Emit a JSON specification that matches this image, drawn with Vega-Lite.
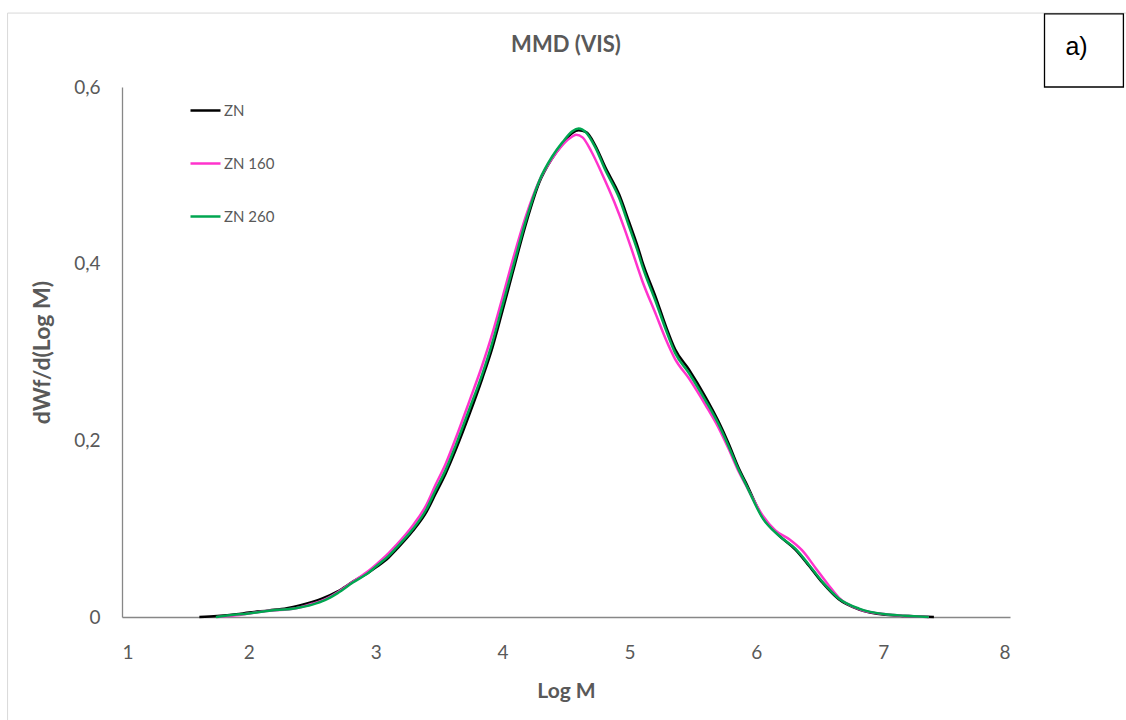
{
  "$schema": "https://vega.github.io/schema/vega-lite/v6.json",
  "autosize": "none",
  "width": 888,
  "height": 530,
  "padding": {"left": 122, "top": 87, "right": 116, "bottom": 103},
  "background": "white",
  "config": {
    "view": {"stroke": null},
    "font": "Lato",
    "axis": {"grid": false, "ticks": false, "domainColor": "#878787", "domainWidth": 1.3, "labelColor": "#595959", "titleColor": "#595959", "labelFont": "Lato", "titleFont": "Lato"}
  },
  "layer": [
    {
      "data": {"values": [{}]},
      "mark": {"type": "rect", "fill": null, "stroke": "#d9d9d9", "strokeWidth": 1, "clip": false},
      "encoding": {
        "x": {"datum": 0.098, "type": "quantitative"},
        "x2": {"datum": 9.2},
        "y": {"datum": 0.6837, "type": "quantitative"},
        "y2": {"datum": -0.16}
      }
    },
    {
      "data": {"values": [{}]},
      "mark": {"type": "rect", "fill": "white", "stroke": "#000000", "strokeWidth": 1.3, "clip": false},
      "encoding": {
        "x": {"datum": 8.272, "type": "quantitative"},
        "x2": {"datum": 8.894},
        "y": {"datum": 0.6827, "type": "quantitative"},
        "y2": {"datum": 0.6}
      }
    },
    {
      "data": {"values": [{"label": "a)"}]},
      "mark": {"type": "text", "font": "Liberation Sans", "fontSize": 25, "color": "#000000", "align": "left", "baseline": "middle", "clip": false},
      "encoding": {
        "x": {"datum": 8.437, "type": "quantitative"},
        "y": {"datum": 0.6453, "type": "quantitative"},
        "text": {"field": "label"}
      }
    },
    {
      "data": {"values": [{"label": "MMD (VIS)"}]},
      "mark": {"type": "text", "font": "Lato", "fontSize": 22, "fontWeight": "bold", "color": "#595959", "align": "center", "baseline": "middle", "clip": false},
      "encoding": {
        "x": {"datum": 4.5, "type": "quantitative"},
        "y": {"datum": 0.6476, "type": "quantitative"},
        "text": {"field": "label"}
      }
    },
    {
      "data": {"values": [
        {"s": "ZN", "x": 1.61, "y": 0.0}, {"s": "ZN", "x": 1.75, "y": 0.001}, {"s": "ZN", "x": 1.9, "y": 0.003}, {"s": "ZN", "x": 2.0, "y": 0.005}, {"s": "ZN", "x": 2.16, "y": 0.0075}, {"s": "ZN", "x": 2.3, "y": 0.010}, {"s": "ZN", "x": 2.4, "y": 0.013}, {"s": "ZN", "x": 2.5, "y": 0.017}, {"s": "ZN", "x": 2.58, "y": 0.021}, {"s": "ZN", "x": 2.7, "y": 0.029}, {"s": "ZN", "x": 2.82, "y": 0.040}, {"s": "ZN", "x": 2.95, "y": 0.051}, {"s": "ZN", "x": 3.0, "y": 0.056}, {"s": "ZN", "x": 3.1, "y": 0.067}, {"s": "ZN", "x": 3.16, "y": 0.076}, {"s": "ZN", "x": 3.29, "y": 0.097}, {"s": "ZN", "x": 3.4, "y": 0.119}, {"s": "ZN", "x": 3.47, "y": 0.139}, {"s": "ZN", "x": 3.55, "y": 0.162}, {"s": "ZN", "x": 3.63, "y": 0.189}, {"s": "ZN", "x": 3.74, "y": 0.230}, {"s": "ZN", "x": 3.84, "y": 0.270}, {"s": "ZN", "x": 3.92, "y": 0.305}, {"s": "ZN", "x": 4.0, "y": 0.347}, {"s": "ZN", "x": 4.08, "y": 0.390}, {"s": "ZN", "x": 4.18, "y": 0.443}, {"s": "ZN", "x": 4.29, "y": 0.492}, {"s": "ZN", "x": 4.39, "y": 0.519}, {"s": "ZN", "x": 4.47, "y": 0.535}, {"s": "ZN", "x": 4.55, "y": 0.548}, {"s": "ZN", "x": 4.6, "y": 0.551}, {"s": "ZN", "x": 4.66, "y": 0.549}, {"s": "ZN", "x": 4.73, "y": 0.534}, {"s": "ZN", "x": 4.81, "y": 0.509}, {"s": "ZN", "x": 4.92, "y": 0.478}, {"s": "ZN", "x": 5.0, "y": 0.446}, {"s": "ZN", "x": 5.07, "y": 0.417}, {"s": "ZN", "x": 5.1, "y": 0.403}, {"s": "ZN", "x": 5.21, "y": 0.361}, {"s": "ZN", "x": 5.285, "y": 0.330}, {"s": "ZN", "x": 5.36, "y": 0.303}, {"s": "ZN", "x": 5.47, "y": 0.280}, {"s": "ZN", "x": 5.6, "y": 0.249}, {"s": "ZN", "x": 5.7, "y": 0.222}, {"s": "ZN", "x": 5.78, "y": 0.197}, {"s": "ZN", "x": 5.86, "y": 0.169}, {"s": "ZN", "x": 5.915, "y": 0.153}, {"s": "ZN", "x": 6.05, "y": 0.113}, {"s": "ZN", "x": 6.18, "y": 0.092}, {"s": "ZN", "x": 6.31, "y": 0.076}, {"s": "ZN", "x": 6.41, "y": 0.059}, {"s": "ZN", "x": 6.52, "y": 0.039}, {"s": "ZN", "x": 6.65, "y": 0.020}, {"s": "ZN", "x": 6.81, "y": 0.0085}, {"s": "ZN", "x": 7.02, "y": 0.0025}, {"s": "ZN", "x": 7.2, "y": 0.001}, {"s": "ZN", "x": 7.4, "y": 0.0},

        {"s": "ZN 160", "x": 1.75, "y": 0.0}, {"s": "ZN 160", "x": 1.9, "y": 0.002}, {"s": "ZN 160", "x": 2.0, "y": 0.004}, {"s": "ZN 160", "x": 2.16, "y": 0.007}, {"s": "ZN 160", "x": 2.37, "y": 0.010}, {"s": "ZN 160", "x": 2.5, "y": 0.015}, {"s": "ZN 160", "x": 2.6, "y": 0.020}, {"s": "ZN 160", "x": 2.7, "y": 0.028}, {"s": "ZN 160", "x": 2.82, "y": 0.040}, {"s": "ZN 160", "x": 2.95, "y": 0.053}, {"s": "ZN 160", "x": 3.0, "y": 0.059}, {"s": "ZN 160", "x": 3.1, "y": 0.072}, {"s": "ZN 160", "x": 3.16, "y": 0.081}, {"s": "ZN 160", "x": 3.29, "y": 0.103}, {"s": "ZN 160", "x": 3.4, "y": 0.127}, {"s": "ZN 160", "x": 3.47, "y": 0.149}, {"s": "ZN 160", "x": 3.55, "y": 0.173}, {"s": "ZN 160", "x": 3.63, "y": 0.202}, {"s": "ZN 160", "x": 3.74, "y": 0.245}, {"s": "ZN 160", "x": 3.84, "y": 0.285}, {"s": "ZN 160", "x": 3.92, "y": 0.321}, {"s": "ZN 160", "x": 4.0, "y": 0.362}, {"s": "ZN 160", "x": 4.08, "y": 0.404}, {"s": "ZN 160", "x": 4.18, "y": 0.452}, {"s": "ZN 160", "x": 4.29, "y": 0.494}, {"s": "ZN 160", "x": 4.39, "y": 0.519}, {"s": "ZN 160", "x": 4.47, "y": 0.534}, {"s": "ZN 160", "x": 4.55, "y": 0.544}, {"s": "ZN 160", "x": 4.58, "y": 0.546}, {"s": "ZN 160", "x": 4.63, "y": 0.543}, {"s": "ZN 160", "x": 4.7, "y": 0.527}, {"s": "ZN 160", "x": 4.78, "y": 0.503}, {"s": "ZN 160", "x": 4.88, "y": 0.470}, {"s": "ZN 160", "x": 4.96, "y": 0.440}, {"s": "ZN 160", "x": 5.02, "y": 0.415}, {"s": "ZN 160", "x": 5.1, "y": 0.381}, {"s": "ZN 160", "x": 5.21, "y": 0.342}, {"s": "ZN 160", "x": 5.285, "y": 0.315}, {"s": "ZN 160", "x": 5.36, "y": 0.292}, {"s": "ZN 160", "x": 5.47, "y": 0.270}, {"s": "ZN 160", "x": 5.6, "y": 0.240}, {"s": "ZN 160", "x": 5.7, "y": 0.215}, {"s": "ZN 160", "x": 5.78, "y": 0.191}, {"s": "ZN 160", "x": 5.86, "y": 0.165}, {"s": "ZN 160", "x": 5.915, "y": 0.150}, {"s": "ZN 160", "x": 6.05, "y": 0.115}, {"s": "ZN 160", "x": 6.15, "y": 0.098}, {"s": "ZN 160", "x": 6.26, "y": 0.088}, {"s": "ZN 160", "x": 6.36, "y": 0.0756}, {"s": "ZN 160", "x": 6.47, "y": 0.055}, {"s": "ZN 160", "x": 6.57, "y": 0.036}, {"s": "ZN 160", "x": 6.65, "y": 0.022}, {"s": "ZN 160", "x": 6.81, "y": 0.009}, {"s": "ZN 160", "x": 7.02, "y": 0.003}, {"s": "ZN 160", "x": 7.2, "y": 0.001}, {"s": "ZN 160", "x": 7.36, "y": 0.0},

        {"s": "ZN 260", "x": 1.74, "y": 0.0}, {"s": "ZN 260", "x": 1.85, "y": 0.002}, {"s": "ZN 260", "x": 2.0, "y": 0.004}, {"s": "ZN 260", "x": 2.16, "y": 0.007}, {"s": "ZN 260", "x": 2.37, "y": 0.010}, {"s": "ZN 260", "x": 2.5, "y": 0.014}, {"s": "ZN 260", "x": 2.6, "y": 0.019}, {"s": "ZN 260", "x": 2.7, "y": 0.027}, {"s": "ZN 260", "x": 2.82, "y": 0.039}, {"s": "ZN 260", "x": 2.95, "y": 0.051}, {"s": "ZN 260", "x": 3.0, "y": 0.057}, {"s": "ZN 260", "x": 3.1, "y": 0.069}, {"s": "ZN 260", "x": 3.16, "y": 0.078}, {"s": "ZN 260", "x": 3.29, "y": 0.099}, {"s": "ZN 260", "x": 3.4, "y": 0.122}, {"s": "ZN 260", "x": 3.47, "y": 0.143}, {"s": "ZN 260", "x": 3.55, "y": 0.166}, {"s": "ZN 260", "x": 3.63, "y": 0.194}, {"s": "ZN 260", "x": 3.74, "y": 0.236}, {"s": "ZN 260", "x": 3.84, "y": 0.275}, {"s": "ZN 260", "x": 3.92, "y": 0.311}, {"s": "ZN 260", "x": 4.0, "y": 0.353}, {"s": "ZN 260", "x": 4.08, "y": 0.395}, {"s": "ZN 260", "x": 4.18, "y": 0.447}, {"s": "ZN 260", "x": 4.29, "y": 0.494}, {"s": "ZN 260", "x": 4.39, "y": 0.521}, {"s": "ZN 260", "x": 4.47, "y": 0.537}, {"s": "ZN 260", "x": 4.55, "y": 0.550}, {"s": "ZN 260", "x": 4.6, "y": 0.553}, {"s": "ZN 260", "x": 4.655, "y": 0.549}, {"s": "ZN 260", "x": 4.73, "y": 0.532}, {"s": "ZN 260", "x": 4.81, "y": 0.506}, {"s": "ZN 260", "x": 4.92, "y": 0.474}, {"s": "ZN 260", "x": 5.0, "y": 0.441}, {"s": "ZN 260", "x": 5.07, "y": 0.412}, {"s": "ZN 260", "x": 5.1, "y": 0.398}, {"s": "ZN 260", "x": 5.21, "y": 0.356}, {"s": "ZN 260", "x": 5.285, "y": 0.326}, {"s": "ZN 260", "x": 5.36, "y": 0.299}, {"s": "ZN 260", "x": 5.47, "y": 0.276}, {"s": "ZN 260", "x": 5.6, "y": 0.245}, {"s": "ZN 260", "x": 5.7, "y": 0.219}, {"s": "ZN 260", "x": 5.78, "y": 0.194}, {"s": "ZN 260", "x": 5.86, "y": 0.167}, {"s": "ZN 260", "x": 5.915, "y": 0.151}, {"s": "ZN 260", "x": 6.05, "y": 0.112}, {"s": "ZN 260", "x": 6.18, "y": 0.092}, {"s": "ZN 260", "x": 6.31, "y": 0.077}, {"s": "ZN 260", "x": 6.41, "y": 0.060}, {"s": "ZN 260", "x": 6.52, "y": 0.040}, {"s": "ZN 260", "x": 6.65, "y": 0.021}, {"s": "ZN 260", "x": 6.81, "y": 0.0095}, {"s": "ZN 260", "x": 7.02, "y": 0.003}, {"s": "ZN 260", "x": 7.17, "y": 0.0015}, {"s": "ZN 260", "x": 7.36, "y": 0.0}
      ]},
      "mark": {"type": "line", "strokeWidth": 2.5, "interpolate": "monotone"},
      "encoding": {
        "x": {"field": "x", "type": "quantitative", "scale": {"domain": [1, 8], "nice": false, "zero": false},
          "axis": {"title": "Log M", "values": [1, 2, 3, 4, 5, 6, 7, 8], "format": "d", "labelFontSize": 19, "labelPadding": 26, "titleFontSize": 21, "titleFontWeight": "bold", "titlePadding": 18}},
        "y": {"field": "y", "type": "quantitative", "scale": {"domain": [0, 0.6], "nice": false},
          "axis": {"title": "dWf/d(Log M)", "values": [0, 0.2, 0.4, 0.6], "labelExpr": "datum.value == 0 ? '0' : replace(format(datum.value, '.1f'), '.', ',')", "labelFontSize": 19, "labelPadding": 22, "titleFontSize": 23, "titleFontWeight": "bold", "titlePadding": 19}},
        "color": {"field": "s", "type": "nominal", "scale": {"domain": ["ZN", "ZN 160", "ZN 260"], "range": ["#000000", "#FF33CC", "#00A650"]},
          "legend": {"title": null, "orient": "none", "legendX": 67, "legendY": 7, "symbolType": "stroke", "symbolSize": 900, "symbolStrokeWidth": 2.5, "labelFontSize": 15, "labelColor": "#595959", "labelFont": "Lato", "labelOffset": 2, "rowPadding": 28}},
        "order": {"field": "s"}
      }
    }
  ]
}
